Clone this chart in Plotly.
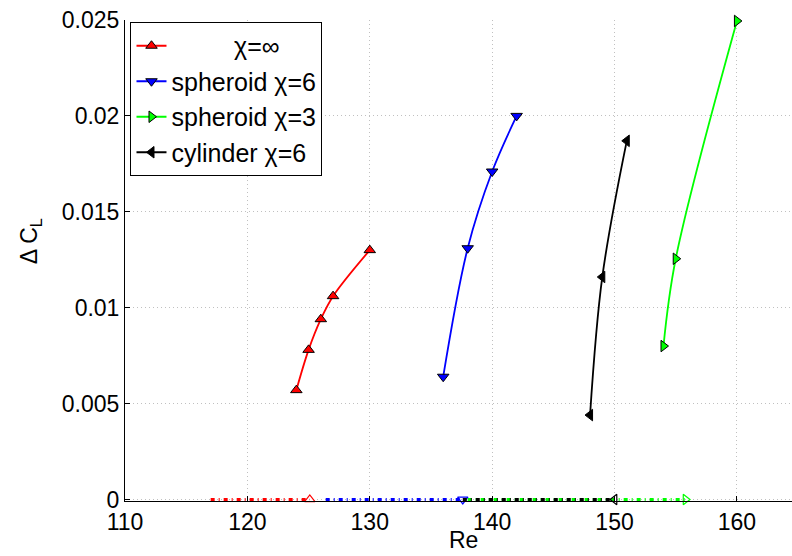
import plotly.graph_objects as go

# ---- data ----
re_inf = [124, 125, 126, 127, 130]
dcl_inf = [0.0057, 0.0078, 0.0094, 0.0106, 0.0130]

re_sph6 = [136, 138, 140, 142]
dcl_sph6 = [0.0064, 0.0131, 0.0171, 0.0200]

re_sph3 = [154, 155, 160]
dcl_sph3 = [0.0080, 0.01255, 0.02495]

re_cyl6 = [148, 149, 151]
dcl_cyl6 = [0.0044, 0.0116, 0.0187]

# stable branches along zero
base_inf_x = [117, 125.1]
base_sph6_x = [126.4, 137.6]
base_sph3_x = [138, 155.8]
base_cyl6_x = [137.6, 150.0]
base_y = [0, 0]

x_ticks = [110, 120, 130, 140, 150, 160]
y_ticks = [0, 0.005, 0.01, 0.015, 0.02, 0.025]
y_ticklabels = ["0", "0.005", "0.01", "0.015", "0.02", "0.025"]

names = ["\u00a0\u00a0\u00a0\u00a0\u00a0\u00a0\u00a0\u00a0\u00a0χ=∞", "spheroid χ=6", "spheroid χ=3", "cylinder χ=6"]
colors = ["#ff0000", "#0000ff", "#00ff00", "#000000"]

FONT = "Liberation Sans, Arial, sans-serif"

fig = go.Figure()

# baselines (dash-dot) with open marker at the end
bases = [(base_inf_x, colors[0], "triangle-up-open"),
         (base_sph6_x, colors[1], "triangle-down-open"),
         (base_sph3_x, colors[2], "triangle-right-open"),
         (base_cyl6_x, colors[3], "triangle-left-open")]
for bx, c, sym in bases:
    fig.add_trace(go.Scatter(x=bx, y=base_y, mode="lines", showlegend=False,
                             line=dict(color=c, width=3, dash="4px,4px,1px,4px"),
                             cliponaxis=False, hoverinfo="skip"))
    fig.add_trace(go.Scatter(x=[bx[-1]], y=[0], mode="markers", showlegend=False,
                             marker=dict(symbol=sym, size=9, color=c,
                                         line=dict(color=c, width=1.2)),
                             cliponaxis=False, hoverinfo="skip"))

series = [(re_inf, dcl_inf, "triangle-up"),
          (re_sph6, dcl_sph6, "triangle-down"),
          (re_sph3, dcl_sph3, "triangle-right"),
          (re_cyl6, dcl_cyl6, "triangle-left")]
for i, (xs, ys, sym) in enumerate(series):
    fig.add_trace(go.Scatter(x=xs, y=ys, mode="lines+markers", name=names[i],
                             legendgroup=f"g{i}",
                             line=dict(color=colors[i], width=1.8, shape="spline", smoothing=1),
                             marker=dict(symbol=sym, size=10, color=colors[i],
                                         line=dict(color="black", width=1)),
                             cliponaxis=False))

pl, pr, pt, pb = 124.5, 792, 20, 501.5
fig.update_layout(
    width=792, height=556,
    margin=dict(l=pl, r=792 - pr, t=pt, b=556 - pb),
    paper_bgcolor="white", plot_bgcolor="white",
    font=dict(family=FONT, size=23, color="black"),
    showlegend=True,
    legend=dict(x=(130 - pl) / (pr - pl), y=(pb - 22) / (pb - pt),
                xanchor="left", yanchor="top",
                bgcolor="white", bordercolor="black", borderwidth=1,
                font=dict(size=25), itemwidth=30, tracegroupgap=0,
                traceorder="grouped"),
    xaxis=dict(range=[110, 164.5], tickvals=x_ticks, ticks="inside", ticklen=5,
               tickcolor="black", showline=True, linecolor="black", linewidth=1,
               showgrid=True, gridcolor="#c0c0c0", griddash="1px,3px", gridwidth=1,
               zeroline=False, automargin=False, tickfont=dict(size=23)),
    yaxis=dict(range=[-0.00008, 0.025], tickvals=y_ticks, ticktext=y_ticklabels,
               ticks="inside", ticklen=5, tickcolor="black", showline=True,
               linecolor="black", linewidth=1, showgrid=True, gridcolor="#c0c0c0",
               griddash="1px,3px", gridwidth=1, zeroline=False, automargin=False,
               tickfont=dict(size=23)),
    annotations=[
        dict(text="Re", x=(463 - pl) / (pr - pl), y=(pb - 541) / (pb - pt),
             xref="paper", yref="paper", showarrow=False,
             font=dict(size=23), xanchor="center", yanchor="middle"),
        dict(text="Δ C<sub>L</sub>", x=(30 - pl) / (pr - pl), y=(pb - 242) / (pb - pt),
             xref="paper", yref="paper",
             showarrow=False, textangle=-90, font=dict(size=23),
             xanchor="center", yanchor="middle"),
    ],
)

fig.write_html("out.html", config={"displayModeBar": False},
               post_script="document.body.style.margin='0';")
